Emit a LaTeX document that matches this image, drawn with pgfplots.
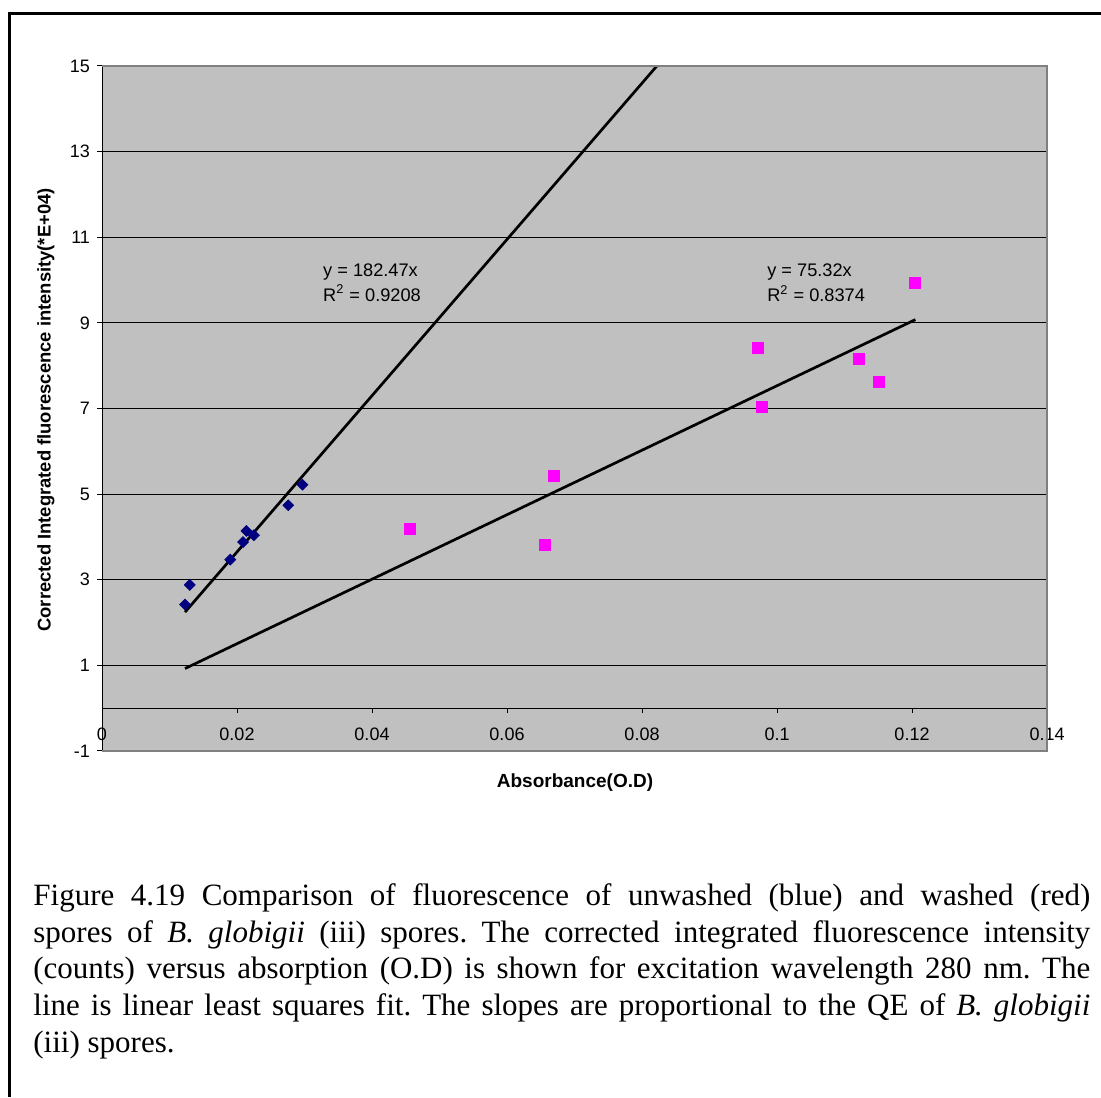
\documentclass[border=0pt]{standalone}
\usepackage{fontspec}
\setmainfont{Liberation Sans}
\newfontfamily\serif{Liberation Serif}
\usepackage{pgfplots}
\pgfplotsset{compat=1.18}
\definecolor{plotgray}{RGB}{192,192,192}
\definecolor{bordergray}{RGB}{128,128,128}
\definecolor{navyblue}{RGB}{0,0,128}
\definecolor{excelmag}{RGB}{255,0,255}
\begin{document}
\begin{tikzpicture}[x=0.5pt,y=0.5pt]
\path[use as bounding box] (0,0) rectangle (1101,1097);
\fill[white] (0,0) rectangle (1101,1097);
\draw[line width=1.5pt] (9,0) -- (9,1083) -- (1101,1083);
\coordinate (axpos) at (102,346);
\begin{axis}[
  at={(axpos)}, anchor=south west,
  scale only axis, width=472.5pt, height=342.5pt,
  xmin=0, xmax=0.14, ymin=-1, ymax=15,
  clip=false,
  axis background/.style={fill=plotgray},
  axis x line=middle, axis y line=left,
  axis line style={-, black, line width=0.5pt},
  xtick={0,0.02,0.04,0.06,0.08,0.1,0.12,0.14},
  ytick={-1,1,3,5,7,9,11,13,15},
  tick align=outside, major tick length=2.5pt,
  tick style={black, line width=0.5pt},
  ymajorgrids, grid style={black, line width=0.5pt},
  xticklabel style={yshift=-4pt},
  ticklabel style={font=\fontsize{9}{10}\selectfont},
  /pgf/number format/assume math mode=true,
  xticklabel={\pgfmathprintnumber[fixed,precision=2]{\tick}},
  yticklabel={\pgfmathprintnumber[fixed,precision=0]{\tick}},
]
% unwashed (blue) data
\addplot[only marks, mark=square*, mark size=1.9pt, mark options={rotate=45}, color=navyblue] coordinates {
(0.0123,2.42) (0.0130,2.88) (0.0190,3.47) (0.0209,3.88) (0.0214,4.14)
(0.0225,4.04) (0.0276,4.74) (0.0297,5.22)};
% washed (red) data
\addplot[only marks, mark=square*, mark size=2.8pt, color=excelmag] coordinates {
(0.0456,4.18) (0.0656,3.81) (0.0670,5.42) (0.0972,8.41) (0.0978,7.03)
(0.1121,8.15) (0.1151,7.62) (0.1204,9.93)};
% trendlines
\addplot[black, line width=1.35pt] coordinates {(0.0123,2.244) (0.0822,15)};
\addplot[black, line width=1.35pt] coordinates {(0.0123,0.926) (0.1205,9.076)};
\node[align=left, font=\fontsize{9.1}{12.5}\selectfont] at (axis cs:0.04,9.94)
  {y = 182.47x\\R\textsuperscript{2} = 0.9208};
\node[align=left, font=\fontsize{9.1}{12.5}\selectfont] at (axis cs:0.1058,9.93)
  {y = 75.32x\\R\textsuperscript{2} = 0.8374};
\node[anchor=north, font=\fontsize{9}{10}\selectfont, yshift=-6.5pt] at (axis cs:0,0) {0};
\draw[bordergray, line width=0.6pt] (rel axis cs:0,1) -- (rel axis cs:1,1) -- (rel axis cs:1,0) -- (rel axis cs:0,0);
\end{axis}
\node[rotate=90, font=\bfseries\fontsize{9.2}{10}\selectfont] at (46,687)
  {Corrected Integrated fluorescence intensity(*E+04)};
\node[font=\bfseries\fontsize{9.5}{10}\selectfont] at (575,314) {Absorbance(O.D)};
\node[anchor=north west, text width=528.5pt, align=justify, inner sep=0pt,
  font=\serif\fontsize{15.5}{18.4}\selectfont\frenchspacing] at (33,214)
  {Figure 4.19 Comparison of fluorescence of unwashed (blue) and washed (red)\linebreak
  spores of \textit{B. globigii} (iii) spores. The corrected integrated fluorescence intensity\linebreak
  (counts) versus absorption (O.D) is shown for excitation wavelength 280 nm. The\linebreak
  line is linear least squares fit. The slopes are proportional to the QE of \textit{B. globigii}\linebreak
  (iii) spores.};
\end{tikzpicture}
\end{document}
